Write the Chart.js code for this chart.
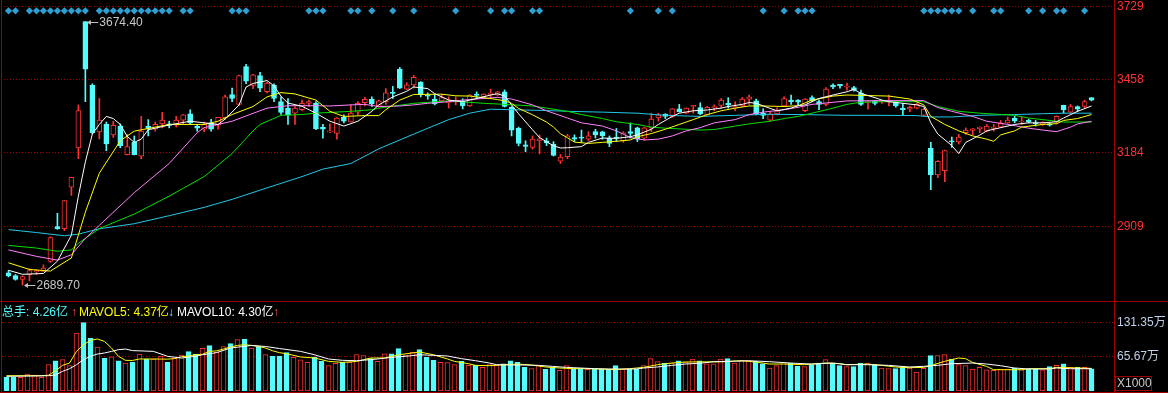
<!DOCTYPE html>
<html><head><meta charset="utf-8">
<script src="https://cdn.jsdelivr.net/npm/chart.js@4.4.1/dist/chart.umd.min.js"></script>
<style>
html,body{margin:0;padding:0;background:#000;overflow:hidden;}
#wrap{position:relative;width:1168px;height:393px;background:#000;}
canvas{position:absolute;left:0;}
#cp{top:0;width:1168px;height:301px;}
#cv{top:301px;width:1168px;height:92px;}
.t{position:absolute;font:12px "Liberation Sans","Noto Sans CJK SC",sans-serif;line-height:14px;white-space:nowrap;z-index:2;}
.a{font-weight:bold;}
#x1000{left:1115px;top:376px;width:34px;height:13px;border:1px solid #a00000;color:#c8c8c8;padding-left:1px;line-height:13px;}
</style></head><body>
<div id="wrap">
<canvas id="cp" width="1168" height="301"></canvas>
<canvas id="cv" width="1168" height="92"></canvas>
<span class="t" style="left:2px;top:305px;color:#54fcfc">总手: 4.26亿</span>
<span class="t a" style="left:71px;top:305px;color:#ff4646">↑</span>
<span class="t" style="left:79px;top:305px;color:#ffff00">MAVOL5: 4.37亿</span>
<span class="t a" style="left:168px;top:305px;color:#54fcfc">↓</span>
<span class="t" style="left:177px;top:305px;color:#ffffff">MAVOL10: 4.30亿</span>
<span class="t a" style="left:273px;top:305px;color:#ff4646">↑</span>
<div class="t" id="x1000">X1000</div>
</div>
<script>
// ---------------- data ----------------
const opens = [2735,2725,2711,2729,2739,2741,2778,2908,2900,3056,
3202,3674.4,3436,3262,3290,3251,3284,3177,3223,3171,
3284,3272,3292,3292,3287,3306,3330,3284,3272,3296,
3287,3314,3402,3365,3506,3436,3473,3412,3436,3375,
3351,3332,3345,3369,3369,3280,3262,3256,3317,3299,
3336,3371,3384,3357,3375,3409,3497,3422,3438,3448,
3400,3385,3378,3371,3373,3375,3359,3403,3393,3402,
3400,3412,3354,3275,3214,3204,3229,3229,3217,3153,
3170,3241,3243,3235,3263,3262,3239,3243,3229,3263,
3277,3239,3277,3314,3329,3320,3348,3332,3357,3353,
3326,3353,3361,3369,3351,3359,3384,3378,3332,3306,
3329,3359,3381,3381,3341,3390,3375,3365,3436,3440,
3429,3428,3408,3371,3378,3373,3373,3373,3351,3347,
3351,3324,3201,3101,3117,3229,3225,3259,3268,3274,
3265,3275,3280,3296,3314,3299,3306,3296,3290,3292,
3299,3361,3336,3357,3357,3390];
const highs = [2744,2729,2724,2751,2747,2765,2870,2958,3006,3093,
3363,3674.4,3442,3387,3299,3302,3292,3253,3247,3320,
3308,3299,3335,3302,3320,3327,3345,3290,3299,3309,
3317,3400,3426,3474,3515,3477,3485,3448,3442,3393,
3387,3357,3381,3381,3375,3290,3292,3316,3326,3363,
3375,3391,3393,3381,3424,3432,3503,3446,3473,3450,
3408,3402,3402,3393,3393,3386,3402,3412,3405,3422,
3414,3419,3357,3280,3229,3247,3251,3239,3226,3178,
3253,3251,3269,3263,3272,3265,3247,3275,3263,3296,
3280,3280,3332,3332,3330,3350,3365,3352,3361,3371,
3357,3363,3387,3390,3375,3390,3400,3385,3348,3336,
3352,3393,3400,3383,3387,3397,3381,3428,3442,3440,
3445,3432,3418,3375,3380,3380,3400,3375,3369,3359,
3369,3350,3223,3155,3194,3243,3253,3277,3275,3281,
3290,3290,3305,3317,3320,3317,3310,3305,3300,3296,
3322,3362,3365,3359,3381,3390];
const lows = [2720,2708,2689.7,2705,2729,2741,2775,2898,2893,3025,
3162,3375,3255,3236,3192,3241,3203,3176,3176,3162,
3247,3265,3277,3277,3280,3292,3290,3265,3263,3265,
3272,3309,3375,3360,3442,3424,3412,3408,3375,3327,
3290,3290,3341,3357,3270,3239,3259,3235,3296,3299,
3326,3359,3357,3355,3365,3387,3424,3420,3426,3393,
3384,3363,3375,3351,3363,3348,3357,3387,3386,3387,
3396,3355,3247,3210,3188,3198,3180,3211,3172,3144,
3162,3226,3223,3229,3239,3235,3207,3226,3223,3239,
3226,3231,3263,3302,3312,3316,3336,3330,3332,3326,
3324,3341,3351,3351,3341,3357,3365,3326,3312,3302,
3326,3357,3365,3363,3338,3375,3345,3359,3424,3426,
3418,3414,3361,3347,3363,3369,3359,3355,3324,3338,
3348,3322,3046,3091,3076,3204,3217,3253,3251,3259,
3262,3265,3278,3294,3296,3290,3296,3284,3286,3284,
3292,3332,3334,3338,3351,3378];
const closes = [2724,2711,2721,2744,2744,2753,2867,2900,3005,3092,
3342,3497,3259,3306,3217,3287,3211,3207,3177,3265,
3275,3290,3306,3286,3306,3326,3296,3276,3290,3272,
3317,3393,3387,3473,3452,3475,3426,3445,3387,3335,
3326,3351,3369,3375,3274,3272,3265,3314,3302,3332,
3369,3384,3367,3378,3408,3406,3426,3438,3466,3400,
3396,3367,3390,3375,3379,3359,3400,3398,3403,3406,
3412,3357,3269,3219,3208,3235,3236,3221,3174,3168,
3247,3235,3239,3247,3251,3247,3219,3239,3259,3256,
3235,3277,3310,3326,3320,3348,3338,3351,3361,3329,
3354,3357,3381,3363,3357,3385,3393,3329,3324,3329,
3341,3387,3375,3373,3385,3378,3365,3422,3430,3434,
3432,3418,3365,3375,3369,3378,3378,3359,3345,3354,
3365,3347,3101,3152,3192,3225,3243,3269,3274,3280,
3284,3280,3296,3306,3302,3302,3299,3292,3296,3287,
3320,3345,3357,3347,3375,3381];
// volume in 万 (axis unit, x1000)
const volumes = [26.3,26.3,26.3,32.8,30.9,26.3,50.8,58.5,60.5,48.9,
112,131.9,101.6,85,63,66,58.5,54,55.3,71.4,
61.7,61.7,67.6,55.3,63.7,69.5,75.9,71.4,82.3,87.5,
75.3,85.6,91.4,99.1,99.7,83,85.6,70.1,66.9,66.9,
74,65,60,55.3,65.7,57.2,48.9,53.3,56,55.3,
70.1,68.2,62.4,57.2,72,72,81.7,69.5,74.6,79.8,
65,59.2,55.3,54.7,50.8,57.2,49.5,49.5,45.6,50.8,
49.5,52.7,58.5,55.3,45.6,43.1,49.5,41.7,45.6,39.8,
48.9,43.1,43.1,41.7,42.4,42.4,42.4,48.9,42.4,42.4,
42.4,48.9,62.4,56.6,54,54,58.5,56,61.7,58.5,
52.7,52.7,61.7,62.4,54,58.5,58.5,57.2,52.7,44.4,
48.9,55.3,54,47.6,47,50.8,54,60.5,54,48.9,
47,47,54,54,50.8,44.4,43.1,43.1,45.6,44.4,
36.7,43.7,68.2,68.2,70.1,61.7,50.8,48.9,42.4,45.6,
41,39.8,42.4,42.4,44.4,41,42.4,42.4,41,47,
49.5,52.7,45.6,45.6,45.6,42.6];
// signal markers (candle indices)
const signals = [0,1,3,4,5,6,7,8,9,10,11,13,14,15,16,17,18,19,20,21,22,23,25,26,32,33,34,43,44,45,49,50,52,55,58,64,69,71,72,75,76,89,93,95,108,111,113,114,115,131,132,133,134,135,136,138,141,142,146,148,150,151,154];
// moving averages: [index, value]
const ma5 = [[0,2745],[2,2730],[5,2733],[7,2779],[9,2876],[10,3022],[11,3150],[12,3254],[13,3290],[14,3320],[15,3312],[16,3290],[17,3245],[18,3223],[19,3235],[20,3270],[23,3288],[26,3302],[28,3296],[30,3290],[31,3310],[33,3363],[34,3430],[35,3443],[37,3454],[38,3434],[39,3395],[40,3370],[42,3358],[44,3332],[46,3302],[48,3284],[50,3302],[52,3339],[53,3363],[55,3393],[57,3414],[58,3430],[60,3424],[61,3405],[63,3381],[65,3375],[67,3387],[69,3400],[70,3405],[71,3396],[72,3363],[73,3330],[75,3270],[76,3241],[78,3210],[79,3202],[80,3203],[82,3207],[83,3223],[85,3239],[87,3238],[89,3244],[90,3251],[92,3272],[93,3290],[95,3320],[96,3332],[98,3341],[100,3344],[102,3351],[103,3357],[105,3365],[106,3372],[107,3369],[109,3350],[110,3341],[112,3351],[113,3360],[114,3363],[116,3387],[118,3400],[120,3412],[121,3421],[122,3406],[124,3390],[125,3381],[126,3375],[128,3369],[130,3363],[131,3357],[132,3296],[133,3254],[135,3211],[136,3181],[137,3223],[139,3250],[140,3266],[142,3278],[144,3290],[146,3296],[148,3296],[150,3300],[151,3314],[153,3339],[155,3359]];
const ma10 = [[0,2773],[3,2748],[6,2742],[9,2791],[11,2962],[13,3108],[16,3229],[18,3265],[23,3290],[28,3290],[30,3302],[32,3327],[35,3357],[37,3393],[39,3409],[41,3404],[44,3381],[46,3339],[48,3320],[51,3323],[53,3323],[54,3345],[56,3381],[58,3402],[62,3403],[64,3397],[66,3396],[68,3390],[70,3383],[71,3378],[72,3369],[73,3350],[75,3326],[77,3299],[78,3280],[79,3255],[80,3240],[81,3224],[83,3219],[85,3223],[87,3227],[89,3232],[90,3244],[92,3256],[94,3272],[96,3290],[98,3308],[100,3327],[102,3341],[104,3351],[106,3359],[108,3359],[111,3357],[113,3360],[115,3381],[118,3396],[120,3400],[126,3396],[129,3385],[131,3363],[132,3320],[134,3290],[136,3266],[138,3247],[140,3235],[141,3227],[142,3251],[144,3266],[145,3280],[148,3290],[150,3293],[151,3305],[153,3312],[155,3327]];
const ma20 = [[0,2821],[4,2797],[7,2783],[9,2803],[11,2864],[13,2913],[18,3035],[23,3144],[27,3259],[28,3278],[32,3302],[37,3351],[40,3360],[44,3360],[46,3359],[49,3363],[51,3365],[53,3357],[56,3359],[58,3363],[60,3369],[63,3375],[65,3381],[68,3387],[70,3391],[72,3385],[75,3363],[77,3341],[80,3314],[82,3296],[85,3284],[87,3266],[89,3241],[91,3232],[93,3235],[95,3247],[97,3266],[99,3278],[101,3296],[104,3308],[106,3327],[108,3336],[111,3345],[113,3354],[115,3365],[120,3378],[125,3379],[131,3379],[133,3353],[135,3339],[138,3320],[140,3302],[143,3290],[146,3276],[148,3269],[150,3263],[152,3280],[153,3292],[155,3302]];
const ma30 = [[0,2838],[4,2828],[7,2816],[9,2821],[10,2846],[13,2901],[18,2955],[23,3022],[28,3095],[32,3181],[35,3266],[36,3290],[39,3324],[42,3327],[44,3332],[49,3339],[52,3345],[53,3351],[58,3369],[63,3378],[68,3369],[71,3365],[75,3359],[77,3351],[80,3339],[82,3327],[85,3312],[87,3300],[90,3290],[92,3280],[94,3276],[97,3272],[99,3269],[101,3271],[104,3284],[106,3292],[109,3302],[111,3312],[113,3320],[115,3332],[118,3351],[120,3365],[122,3373],[125,3375],[131,3375],[133,3357],[136,3339],[139,3332],[141,3329],[144,3324],[146,3314],[149,3305],[151,3299],[155,3299]];
const ma60 = [[0,2897],[4,2886],[8,2874],[10,2880],[13,2900],[18,2919],[23,2949],[28,2980],[32,3010],[37,3053],[42,3095],[45,3123],[49,3144],[53,3199],[58,3254],[63,3308],[66,3332],[69,3347],[72,3345],[77,3342],[80,3339],[85,3336],[90,3332],[94,3324],[99,3320],[104,3324],[109,3328],[113,3327],[120,3324],[125,3324],[130,3323],[132,3318],[135,3318],[139,3324],[144,3327],[148,3330],[151,3332],[155,3332]];
const mavol5 = [[0,29.5],[5,29.5],[6,30.5],[7,39],[8,49.5],[9,54],[10,76.5],[11,89.4],[12,97.8],[13,100.4],[14,95.8],[15,83],[16,66.9],[17,59.2],[18,59],[19,61.8],[21,61.8],[23,61.5],[24,62.5],[25,66.3],[26,67.5],[27,70],[28,71],[29,76.5],[30,77.5],[31,81],[32,85],[33,88],[34,89.4],[35,88],[36,86],[37,83],[38,77.8],[39,74],[40,72],[42,65.7],[44,63.7],[46,57.2],[48,55.3],[50,57],[52,63.7],[54,63.7],[56,70],[58,73.4],[59,75.3],[61,70],[63,61.8],[64,57.2],[66,52.7],[67,49.5],[69,48.9],[71,50.8],[73,52],[75,50.2],[77,46.4],[79,44.4],[81,43.1],[83,43],[85,42.4],[87,41.1],[89,43],[90,44.4],[91,45.6],[93,50.8],[95,54],[97,56],[100,56.3],[102,56.3],[105,58.5],[107,56],[109,52.1],[111,52.1],[114,50.8],[117,54],[119,53],[120,50.8],[123,52],[125,49.5],[127,46.4],[129,45],[131,45.6],[132,48.9],[134,57.2],[136,63.7],[137,62.5],[138,55.3],[140,47.6],[141,41.1],[145,41.1],[146,43.1],[149,43.1],[150,45.6],[155,43.7]];
const mavol10 = [[0,28.3],[6,29.5],[7,31],[8,37.9],[9,43],[10,50.8],[11,60.5],[12,67],[13,71.4],[14,73.4],[15,76.5],[16,79.8],[17,81],[18,78],[21,76.5],[23,67],[25,63.7],[27,67],[28,70],[30,74],[32,83],[35,88],[37,86],[39,82],[42,76.5],[44,70],[46,61.8],[48,59.2],[50,58.5],[52,60.5],[53,61.8],[55,65],[57,66.9],[59,70],[61,68.8],[63,67.6],[65,62.4],[67,58.5],[69,54],[70,50.8],[72,50.2],[74,50.2],[76,49.5],[78,47.6],[80,45.6],[82,44.4],[84,43.1],[86,42.5],[90,42.5],[91,44.4],[93,46.4],[95,49.5],[97,52.1],[99,53.5],[101,56.6],[103,57.2],[106,58.5],[109,56.6],[112,54],[115,52.1],[118,54],[120,50.8],[123,50.8],[126,49.5],[129,46.4],[131,47.6],[133,49.5],[135,52.7],[138,54],[140,52.1],[142,48.9],[144,44.4],[146,42.5],[149,42.5],[150,44.4],[152,43],[155,43]];
const priceTicks = [3729, 3458, 3184, 2909];
const volTicks = [131.35, 65.67];
const extremes = [{i: 11, v: 3674.4, label: '3674.40'}, {i: 2, v: 2689.7, label: '2689.70'}];

// ---------------- styling ----------------
const UP = '#ff3232', DOWN = '#54fcfc', FRAME = '#a00000', GRID = '#a00000';
const FONT = '"Liberation Sans", "Noto Sans CJK SC", Arial, sans-serif';
Chart.defaults.font.family = FONT;
Chart.defaults.font.size = 12;
const isUp = i => closes[i] >= opens[i];
const N = opens.length;
const idx = [...Array(N).keys()];
const slotPx = 7, plotLeft = 2, plotW = 1112, firstCenter = 6.5;
const xMin = -(firstCenter - plotLeft) / slotPx;
const xMax = xMin + plotW / slotPx;
const xy = pts => pts.map(([x, y]) => ({x, y}));
const fixW = s => { s.width = 54; s.paddingTop = 0; s.paddingBottom = 0; };

const framePlugin = (h) => ({
  id: 'frame' + h,
  afterDraw(chart) {
    const c = chart.ctx; c.save(); c.fillStyle = FRAME;
    c.fillRect(1, 0, 1, h);
    c.fillRect(1114, 0, 1, h);
    if (h === 92) { c.fillRect(0, 0, 1168, 1); c.fillRect(0, 91, 1168, 1); }
    c.restore();
  }
});

const annotPlugin = {
  id: 'annot',
  afterDatasetsDraw(chart) {
    const c = chart.ctx, xs = chart.scales.x, ys = chart.scales.y;
    c.save();
    extremes.forEach(e => {
      const px = xs.getPixelForValue(e.i), py = Math.round(ys.getPixelForValue(e.v)) + 0.5;
      c.strokeStyle = '#c0c0c0'; c.fillStyle = '#c0c0c0'; c.lineWidth = 1;
      c.beginPath(); c.moveTo(px + 3, py); c.lineTo(px + 13, py); c.stroke();
      c.beginPath(); c.moveTo(px + 1.5, py); c.lineTo(px + 5.5, py - 2.5); c.lineTo(px + 5.5, py + 2.5); c.closePath(); c.fill();
      c.font = '12px ' + FONT; c.textBaseline = 'middle'; c.textAlign = 'left';
      c.fillStyle = '#c8c8c8';
      c.fillText(e.label, px + 14, py);
    });
    c.restore();
  }
};

// ---------------- price chart ----------------
const yMax = 3740.1, yMin = 2645.1, signalLevel = 3714.5;
new Chart(document.getElementById('cp'), {
  type: 'bar',
  data: {
    datasets: [
      {type: 'line', data: signals.map(i => ({x: i, y: signalLevel})), showLine: false, pointStyle: 'rectRot', pointRadius: 3.6, pointBorderWidth: 0, pointBackgroundColor: '#2d9fd2', order: 0},
      {type: 'line', data: xy(ma5), borderColor: '#ffffff', borderWidth: 1, pointRadius: 0, order: 1},
      {type: 'line', data: xy(ma10), borderColor: '#ffff00', borderWidth: 1, pointRadius: 0, order: 1},
      {type: 'line', data: xy(ma20), borderColor: '#ff80ff', borderWidth: 1, pointRadius: 0, order: 1},
      {type: 'line', data: xy(ma30), borderColor: '#00e000', borderWidth: 1, pointRadius: 0, order: 1},
      {type: 'line', data: xy(ma60), borderColor: '#20c8e8', borderWidth: 1, pointRadius: 0, order: 1},
      {data: idx.map(i => ({x: i, y: [opens[i], closes[i]]})), grouped: false, barThickness: 5, minBarLength: 1,
        backgroundColor: idx.map(i => isUp(i) ? '#000000' : DOWN), borderColor: idx.map(i => isUp(i) ? UP : DOWN),
        borderWidth: 1, borderSkipped: false, order: 2},
      {data: idx.map(i => ({x: i, y: [lows[i], highs[i]]})), grouped: false, barThickness: 1,
        backgroundColor: idx.map(i => isUp(i) ? UP : DOWN), borderWidth: 0, order: 3}
    ]
  },
  options: {
    responsive: false, animation: false, devicePixelRatio: 1, events: [],
    layout: {padding: {left: plotLeft, right: 0, top: 0, bottom: 1}},
    plugins: {legend: {display: false}, tooltip: {enabled: false}},
    scales: {
      x: {type: 'linear', min: xMin, max: xMax, display: false, offset: false},
      y: {position: 'right', min: yMin, max: yMax, beginAtZero: false, afterFit: fixW,
        afterBuildTicks: s => { s.ticks = priceTicks.map(v => ({value: v})); },
        ticks: {color: '#ff3232', padding: 3, autoSkip: false, callback: v => String(v), font: {size: 12}},
        grid: {color: GRID, lineWidth: 1, drawTicks: false},
        border: {display: false, dash: [1, 2]}}
    }
  },
  plugins: [annotPlugin, framePlugin(301)]
});

// ---------------- volume chart ----------------
new Chart(document.getElementById('cv'), {
  type: 'bar',
  data: {
    datasets: [
      {type: 'line', data: xy(mavol5), borderColor: '#ffff00', borderWidth: 1, pointRadius: 0, order: 1},
      {type: 'line', data: xy(mavol10), borderColor: '#ffffff', borderWidth: 1, pointRadius: 0, order: 0},
      {data: idx.map(i => ({x: i, y: volumes[i]})), grouped: false, barThickness: 5,
        backgroundColor: idx.map(i => isUp(i) ? '#000000' : DOWN), borderColor: idx.map(i => isUp(i) ? UP : DOWN),
        borderWidth: 1, borderSkipped: false, order: 2}
    ]
  },
  options: {
    responsive: false, animation: false, devicePixelRatio: 1, events: [],
    layout: {padding: {left: plotLeft, right: 0, top: 0, bottom: 2}},
    plugins: {legend: {display: false}, tooltip: {enabled: false}},
    scales: {
      x: {type: 'linear', min: xMin, max: xMax, display: false, offset: false},
      y: {position: 'right', min: 0, max: 173.8, beginAtZero: true, afterFit: fixW,
        afterBuildTicks: s => { s.ticks = volTicks.map(v => ({value: v})); },
        ticks: {color: '#c0d0e8', padding: 3, autoSkip: false, callback: v => v.toFixed(2) + '万', font: {size: 12}},
        grid: {color: GRID, lineWidth: 1, drawTicks: false},
        border: {display: false, dash: [1, 2]}}
    }
  },
  plugins: [framePlugin(92)]
});
</script>
</body></html>
